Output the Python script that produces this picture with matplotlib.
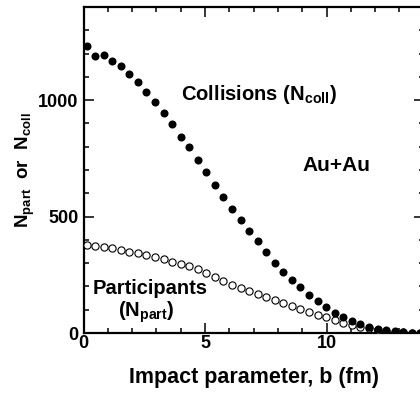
import matplotlib
matplotlib.use("Agg")
import matplotlib.pyplot as plt
from matplotlib.ticker import MultipleLocator

plt.rcParams['font.family'] = ['Liberation Sans', 'DejaVu Sans']
plt.rcParams['font.weight'] = 'bold'
plt.rcParams['mathtext.fontset'] = 'custom'
plt.rcParams['mathtext.rm'] = 'Liberation Sans:bold'
plt.rcParams['mathtext.bf'] = 'Liberation Sans:bold'
plt.rcParams['mathtext.it'] = 'Liberation Sans:bold'
plt.rcParams['mathtext.sf'] = 'Liberation Sans:bold'

# impact parameter grid (fm)
b = [0.13, 0.48, 0.83, 1.19, 1.54, 1.89, 2.24, 2.59, 2.95, 3.30,
     3.65, 4.00, 4.35, 4.71, 5.06, 5.41, 5.76, 6.11, 6.47, 6.82,
     7.17, 7.52, 7.87, 8.23, 8.58, 8.93, 9.28, 9.63, 9.99, 10.34,
     10.69, 11.04, 11.39, 11.75, 12.10, 12.45, 12.80, 13.15, 13.51, 13.86]

n_coll = [1231, 1191, 1194, 1169, 1145, 1114, 1077, 1035, 992, 943,
          899, 843, 799, 744, 690, 637, 584, 533, 486, 439,
          396, 347, 302, 264, 228, 197, 162, 136, 111, 86,
          68, 53, 39, 27, 19, 13, 9, 4, 2, 1]

n_part = [378, 374, 370, 364, 357, 350, 343, 335, 326, 317,
          307, 297, 286, 273, 258, 241, 224, 208, 195, 181,
          167, 154, 140, 127, 114, 101, 89, 78, 67, 56,
          45, 36, 27, 20, 14, 9, 6, 3, 2, 1]

fig = plt.figure(figsize=(4.2, 3.96), dpi=100)
ax = fig.add_axes([83.5/420, (396-333)/396, (423.7-83.5)/420, 326/396])

ax.plot(b, n_part, linestyle='none', marker='o', markersize=5.2,
        markerfacecolor='white', markeredgecolor='black', markeredgewidth=0.8, zorder=3)
ax.plot(b, n_coll, linestyle='none', marker='o', markersize=5.8,
        markerfacecolor='black', markeredgecolor='black', markeredgewidth=0, zorder=4)

ax.set_xlim(0, 14)
ax.set_ylim(0, 1400)
ax.xaxis.set_major_locator(MultipleLocator(5))
ax.xaxis.set_minor_locator(MultipleLocator(1))
ax.yaxis.set_major_locator(MultipleLocator(500))
ax.yaxis.set_minor_locator(MultipleLocator(100))
ax.tick_params(which='both', direction='in', top=True, right=True, width=1.1)
ax.tick_params(which='major', length=7.2, labelsize=13)
ax.tick_params(which='minor', length=3.6)
ax.tick_params(axis='x', pad=1.5)
ax.tick_params(axis='y', pad=3.5)
for lab in ax.get_xticklabels() + ax.get_yticklabels():
    lab.set_fontweight('bold')
for s in ax.spines.values():
    s.set_linewidth(1.6)

ax.set_xlabel('Impact parameter, b (fm)', fontsize=15.5, fontweight='bold', labelpad=11)
ax.set_ylabel(r'N$_{\rm part}$  or  N$_{\rm coll}$', fontsize=13.5, fontweight='bold', labelpad=1)

ax.text(4.01, 1002, r'Collisions (N$_{\rm coll}$)', fontsize=14.5, fontweight='bold',
        ha='left', va='baseline')
ax.text(9.03, 697, 'Au+Au', fontsize=15, fontweight='bold', ha='left', va='baseline')
ax.text(0.39, 168, 'Participants', fontsize=14.5, fontweight='bold', ha='left', va='baseline')
ax.text(1.42, 69, r'(N$_{\rm part}$)', fontsize=14.5, fontweight='bold', ha='left', va='baseline')

fig.savefig('out.png', dpi=100)
